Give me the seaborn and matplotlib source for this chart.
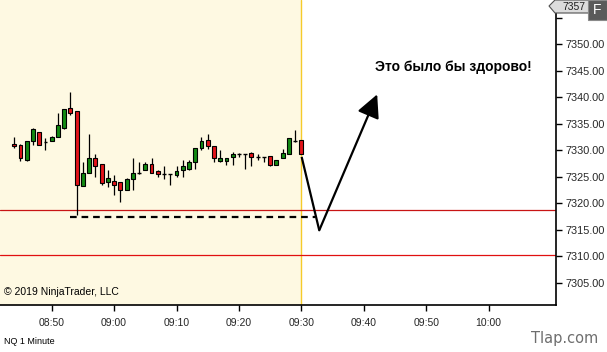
import matplotlib
matplotlib.use("Agg")
import matplotlib.pyplot as plt
import seaborn as sns
import numpy as np
import pandas as pd
from matplotlib.patches import Polygon, Rectangle

# ---- data (minutes after 08:00) ----
minutes = list(range(44, 91))
opens = [7331.25, 7331.0, 7328.25, 7331.75, 7333.5, 7331.5, 7331.75, 7332.5, 7334.25, 7338.0,
         7337.5, 7323.25, 7325.75, 7328.5, 7327.5, 7324.0, 7324.25, 7324.0, 7322.5, 7324.5,
         7325.75, 7326.25, 7327.5, 7326.0, 7325.5, 7325.5, 7325.25, 7326.25, 7326.5, 7327.75,
         7330.5, 7332.0, 7330.75, 7328.0, 7328.0, 7328.75, 7329.25, 7329.25, 7329.5, 7328.75,
         7328.75, 7329.0, 7327.25, 7328.5, 7329.25, 7331.75, 7332.0]
highs = [7332.5, 7331.25, 7331.75, 7334.25, 7333.5, 7332.25, 7332.75, 7337.0, 7337.75, 7341.0,
         7337.5, 7327.75, 7333.0, 7329.25, 7327.5, 7326.25, 7325.25, 7324.0, 7324.75, 7328.5,
         7327.75, 7327.75, 7328.5, 7326.25, 7327.0, 7325.5, 7327.0, 7328.25, 7328.25, 7330.5,
         7332.5, 7333.0, 7330.75, 7330.0, 7328.5, 7329.75, 7329.5, 7329.25, 7329.75, 7329.25,
         7328.75, 7329.0, 7328.25, 7330.25, 7332.25, 7333.75, 7332.0]
lows = [7330.5, 7328.0, 7328.0, 7331.0, 7331.0, 7330.0, 7331.75, 7332.5, 7334.0, 7336.75,
        7317.75, 7323.25, 7325.75, 7325.0, 7323.5, 7323.0, 7321.5, 7320.25, 7322.5, 7322.5,
        7325.5, 7326.25, 7325.75, 7325.0, 7324.5, 7323.5, 7325.0, 7325.0, 7326.25, 7326.5,
        7330.0, 7330.25, 7327.75, 7327.75, 7327.25, 7327.25, 7328.75, 7326.5, 7327.0, 7328.25,
        7327.75, 7327.0, 7327.25, 7328.5, 7329.25, 7331.5, 7329.25]
closes = [7330.75, 7328.5, 7331.75, 7334.0, 7331.0, 7331.5, 7332.5, 7334.75, 7337.75, 7337.0,
          7323.5, 7325.75, 7328.5, 7327.0, 7323.75, 7324.75, 7323.5, 7322.5, 7324.5, 7325.75,
          7325.75, 7327.5, 7325.75, 7325.5, 7325.5, 7325.5, 7326.0, 7327.0, 7327.75, 7330.5,
          7331.75, 7330.75, 7328.5, 7328.5, 7328.5, 7329.25, 7329.25, 7329.25, 7328.75, 7328.75,
          7328.75, 7327.25, 7328.25, 7329.5, 7332.25, 7331.75, 7329.25]

level_upper = 7318.75
level_lower = 7310.25
dash_level = 7317.5
dash_span = [53.0, 92.2]
path_x = [90.05, 92.87]
path_y = [7328.75, 7314.9]
arrow_tip = (102.15, 7340.55)
note_text = "Это было бы здорово!"
note_pos = (114.3, 7345.8)

xtick_pos = [50, 60, 70, 80, 90, 100, 110, 120]
xtick_labels = ["08:50", "09:00", "09:10", "09:20", "09:30", "09:40", "09:50", "10:00"]
ytick_pos = [7305, 7310, 7315, 7320, 7325, 7330, 7335, 7340, 7345, 7350, 7355]
ytick_labels = ["7305.00", "7310.00", "7315.00", "7320.00", "7325.00", "7330.00",
                "7335.00", "7340.00", "7345.00", "7350.00", ""]

df = pd.DataFrame({"m": minutes, "o": opens, "h": highs, "l": lows, "c": closes})

# ---- style ----
sns.set_theme(style="white")
plt.rcParams["font.family"] = ["Liberation Sans", "DejaVu Sans"]

W, H = 607, 352
fig = plt.figure(figsize=(W / 100, H / 100), dpi=100)
ax = fig.add_axes([0, 1 - 305 / H, 556 / W, 305 / H])
ax.set_xlim(41.72, 130.8)
ax.set_ylim(7300.8, 7358.36)

cream = "#FEF9E2"
ax.axvspan(41.72, 90.0, color=cream, zorder=0, lw=0)
ax.axvline(90.0, color="#F5CB2A", lw=1.0, zorder=1)

ax.axhline(level_upper, color="#C81414", lw=0.9, zorder=2)
ax.axhline(level_lower, color="#E01010", lw=0.9, zorder=2)

# candles
green = "#138A13"
red = "#E3141A"
bw = 0.62
ax.vlines(df["m"], df["l"], df["h"], color="black", lw=0.9, zorder=3)
for _, r in df.iterrows():
    if r["c"] == r["o"]:
        ax.hlines(r["o"], r["m"] - bw / 2, r["m"] + bw / 2, color="black", lw=1.0, zorder=4)
    else:
        col = green if r["c"] > r["o"] else red
        ax.bar(r["m"], abs(r["c"] - r["o"]), bottom=min(r["o"], r["c"]), width=bw,
               color=col, edgecolor="black", linewidth=0.8, zorder=4)

# dashed level
ax.hlines(dash_level, dash_span[0], dash_span[1], color="black", lw=1.6,
          linestyles=(0, (3, 2.2)), zorder=5)

# hypothetical path and arrow
ax.plot(path_x, path_y, color="black", lw=1.6, zorder=6, solid_capstyle="butt")
ax.annotate("", xy=arrow_tip, xytext=(path_x[-1], path_y[-1]),
            arrowprops=dict(arrowstyle="-|>,head_length=1.0,head_width=0.5", color="black",
                            lw=1.6, mutation_scale=14, shrinkA=0, shrinkB=0), zorder=6)
ax.text(note_pos[0], note_pos[1], note_text, ha="center", va="center",
        fontsize=10, fontweight="bold", color="black", zorder=7)

ax.text(4 / 556, 13 / 305, "© 2019 NinjaTrader, LLC", transform=ax.transAxes,
        ha="left", va="center", fontsize=7.5, color="black")

# axes styling
for s in ["left", "top"]:
    ax.spines[s].set_visible(False)
for s in ["right", "bottom"]:
    ax.spines[s].set_visible(True)
    ax.spines[s].set_color("black")
    ax.spines[s].set_linewidth(1.2)
ax.yaxis.tick_right()
ax.set_xticks(xtick_pos)
ax.set_xticklabels(xtick_labels)
ax.set_yticks(ytick_pos)
ax.set_yticklabels(ytick_labels)
ax.tick_params(axis="x", direction="out", length=4, width=1, color="black",
               labelsize=7.5, pad=5, bottom=True)
ax.tick_params(axis="y", direction="out", length=4, width=1, color="black",
               labelsize=7.8, pad=3, right=True, left=False)
ax.grid(False)

# footer texts
fig.text(4 / W, 1 - 342 / H, "NQ 1 Minute", ha="left", va="center", fontsize=6.5, color="black")
fig.text(565 / W, 1 - 339 / H, "Tlap.com", ha="center", va="center", fontsize=10.5,
         color="#6E6E6E", family="DejaVu Sans")

# top-right price marker and F button
def px(x, y):
    return (x / W, 1 - y / H)

marker = Polygon([px(549, 6), px(555, 0), px(592, 0), px(592, 13), px(555, 13)],
                 closed=True, transform=fig.transFigure, facecolor="#DCDCDC",
                 edgecolor="#505050", lw=0.8, zorder=10)
fig.patches.append(marker)
fig.text(574 / W, 1 - 6.5 / H, "7357", ha="center", va="center", fontsize=7.5,
         color="#202020", zorder=11)
fbox = Rectangle(px(588, 20), 19 / W, 20 / H, transform=fig.transFigure,
                 facecolor="#5A5A5A", edgecolor="#8A8A8A", lw=0.8, zorder=12)
fig.patches.append(fbox)
fig.text(597.5 / W, 1 - 10 / H, "F", ha="center", va="center", fontsize=10,
         color="white", zorder=13)

fig.savefig("out.png", dpi=100, facecolor="white")
